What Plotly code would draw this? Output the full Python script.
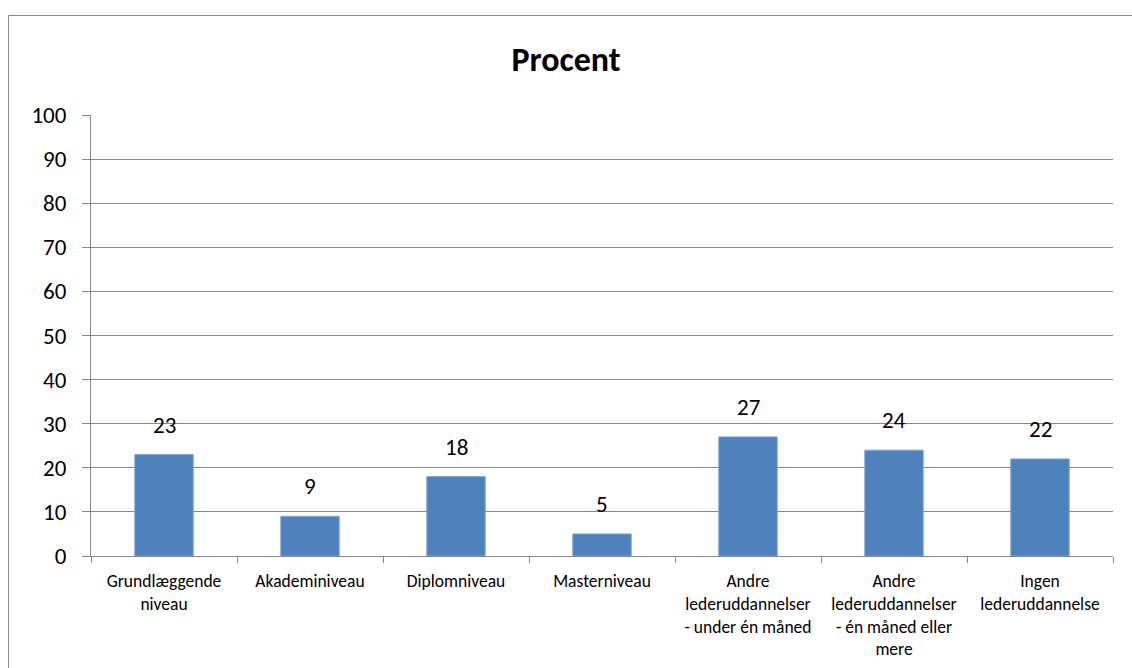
import plotly.graph_objects as go

categories = [
    "Grundlæggende<br>niveau",
    "Akademiniveau",
    "Diplomniveau",
    "Masterniveau",
    "Andre<br>lederuddannelser<br>- under én måned",
    "Andre<br>lederuddannelser<br>- én måned eller<br>mere",
    "Ingen<br>lederuddannelse",
]
values = [23, 9, 18, 5, 27, 24, 22]
y_ticks = list(range(0, 101, 10))

FONT = "Carlito, Lato, sans-serif"
GRID = "#868686"

fig = go.Figure(
    go.Bar(
        x=categories,
        y=values,
        marker=dict(color="#4F81BD", line=dict(color="#7FA3D3", width=1)),
        width=0.4,
        hoverinfo="x+y",
    )
)

for c, v in zip(categories, values):
    fig.add_annotation(
        x=c, y=v, text=str(v), showarrow=False, yanchor="bottom",
        yshift=14, font=dict(family=FONT, size=23, color="#000000"),
    )

fig.add_shape(
    type="rect", xref="paper", yref="paper",
    x0=-0.0807, x1=1.3, y0=-0.6, y1=1.2256,
    line=dict(color=GRID, width=1), fillcolor="rgba(0,0,0,0)", layer="below",
)

fig.update_layout(
    width=1132, height=668,
    margin=dict(l=91, r=19, t=115, b=112, autoexpand=False),
    paper_bgcolor="white", plot_bgcolor="white",
    showlegend=False,
    title=dict(
        text="<b>Procent</b>", x=0.5, xanchor="center",
        y=1 - 59 / 668, yanchor="middle", yref="container",
        font=dict(family=FONT, size=34, color="#000000"),
    ),
    font=dict(family=FONT, color="#000000"),
)

fig.update_yaxes(
    range=[0, 100], tickvals=y_ticks, showgrid=True, gridcolor=GRID, gridwidth=1,
    showline=True, linecolor=GRID, linewidth=1, ticks="outside", ticklen=8,
    tickcolor=GRID, ticklabelstandoff=11, automargin=False,
    tickfont=dict(family=FONT, size=23, color="#000000"),
    zeroline=False, fixedrange=True,
)
fig.update_xaxes(
    showline=True, linecolor=GRID, linewidth=1, ticks="outside", ticklen=6,
    tickcolor=GRID, tickson="boundaries", ticklabelstandoff=9, automargin=False,
    tickfont=dict(family=FONT, size=17.5, color="#000000"),
    showgrid=False, fixedrange=True,
)

fig.write_html("out.html")
